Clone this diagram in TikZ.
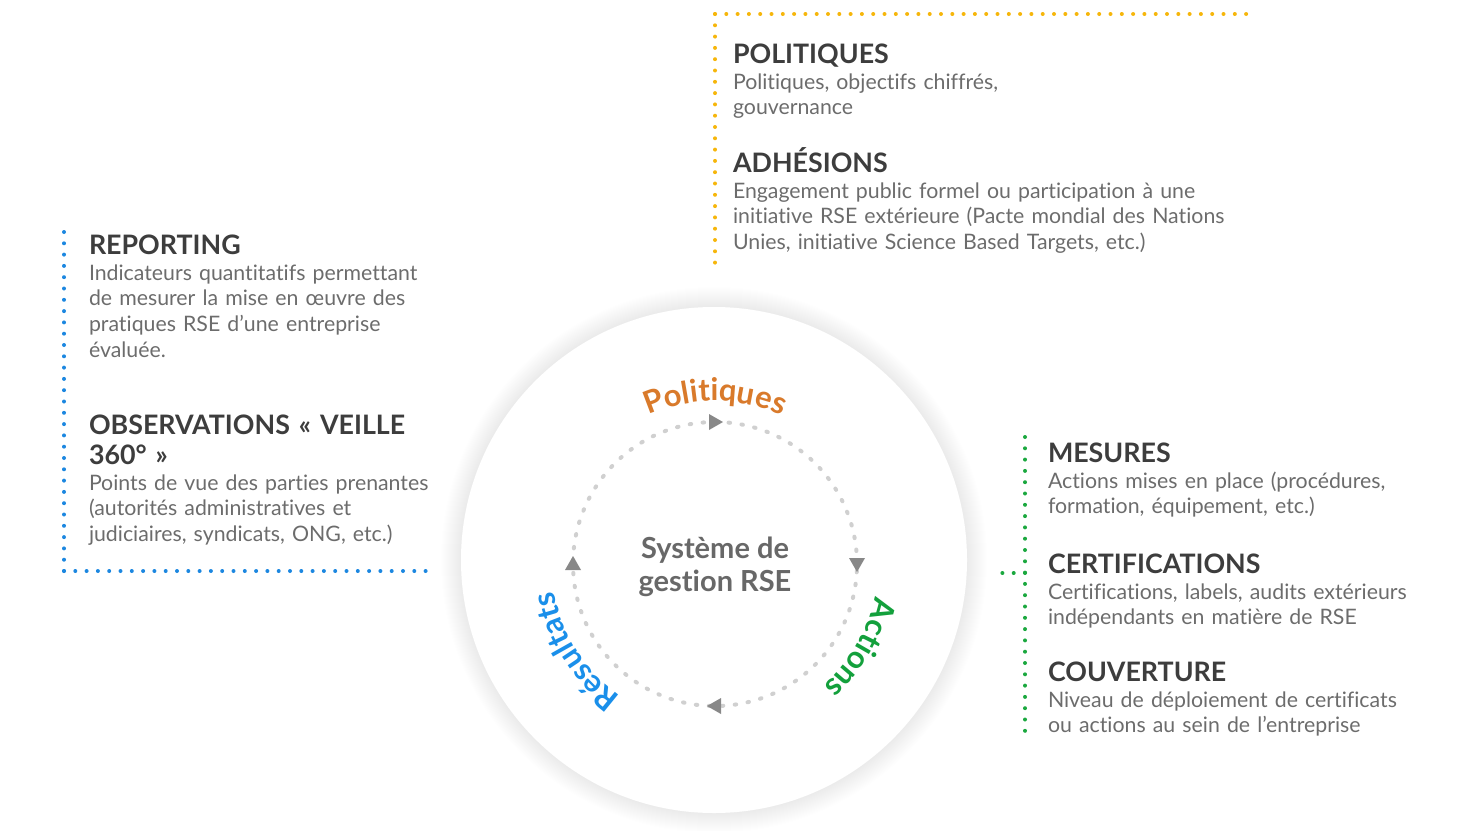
\documentclass[tikz,border=0pt]{standalone}
\usepackage{fontspec}
\setmainfont{Lato}[Ligatures=NoCommon]
\usepackage{tikz}
\usetikzlibrary{calc,decorations.text}

\definecolor{headgray}{HTML}{3D3D3D}
\definecolor{bodygray}{HTML}{6C6C6C}
\definecolor{midgray}{HTML}{686868}
\definecolor{arrowgray}{HTML}{888888}
\definecolor{circgray}{HTML}{D0D0D0}
\definecolor{polorange}{HTML}{D97A2B}
\definecolor{actgreen}{HTML}{13A03C}
\definecolor{resblue}{HTML}{1A8FEA}
\definecolor{dotorange}{HTML}{F6B60B}
\definecolor{dotblue}{HTML}{1C87E0}
\definecolor{dotgreen}{HTML}{1BA83F}

\begin{document}
\begin{tikzpicture}[inner sep=0pt,outer sep=0pt,x=1pt,y=1pt,
    head/.style={anchor=base west, text width=600pt, align=left, text=headgray,
        font=\fontsize{26.8}{30}\selectfont\bfseries},
    body/.style={anchor=base west, text width=600pt, align=left, text=bodygray,
        font=\fontsize{21.3}{25.8}\selectfont},
    dots/.style={line width=4pt, line cap=round, dash pattern=on 0pt off 11.3pt},
    bend/.style={decorate, decoration={text along path, text align=center, text={#1}}}]

    \useasboundingbox (0,0) rectangle (1467,-830);

    % halo and disc
    \coordinate (disc) at (714,-560);
    \foreach \i in {1,...,20}
        \fill[black, opacity=0.002] (disc) circle[radius=253pt+\i pt];
    \fill[white] (disc) circle (253pt);

    % cycle
    \coordinate (ctr) at (715,-564);
    \draw[circgray, line width=4pt, line cap=round, dash pattern=on 1.5pt off 11.5pt]
        (ctr) circle (142pt);
    \foreach \a in {0,90,180,270}
        \fill[arrowgray] ($(ctr)+(\a:142pt)+(\a-90:8pt)$)
            -- ($(ctr)+(\a:142pt)+(\a+90:6pt)+(\a:8pt)$)
            -- ($(ctr)+(\a:142pt)+(\a+90:6pt)+(\a:-8pt)$) -- cycle;

    \node[align=center, text=midgray, font=\fontsize{29}{33}\selectfont\bfseries]
        (sys) at ($(ctr)+(0,-3)$) {Système de\\gestion RSE};

    \path[bend={|\fontsize{31}{31}\selectfont\bfseries\color{polorange}|Politiques}]
        ($(ctr)+(150:163pt)$) arc[start angle=150, end angle=30, radius=163pt];
    \path[bend={|\fontsize{31}{31}\selectfont\bfseries\color{actgreen}|Actions}]
        ($(ctr)+(30:163pt)$) arc[start angle=30, end angle=-90, radius=163pt];
    \path[bend={|\fontsize{31}{31}\selectfont\bfseries\color{resblue}|Résultats}]
        ($(ctr)+(272:163pt)$) arc[start angle=272, end angle=152, radius=163pt];

    % politiques / adhesions
    \coordinate (org_c) at (715,-14);
    \draw[dotorange, dots] (org_c) -- ($(org_c)+(535,0)$);
    \draw[dotorange, dots] (org_c) -- ($(org_c)+(0,-251)$);

    \node[head] (pol_head) at (733,-63) {POLITIQUES};
    \node[body] (pol_txt) at ($(pol_head.base west)+(0,-26)$)
        {Politiques, objectifs chiffrés,\\gouvernance};
    \node[head] (adh_head) at (733,-172) {ADHÉSIONS};
    \node[body] (adh_txt) at ($(adh_head.base west)+(0,-26)$)
        {Engagement public formel ou participation à une\\
         initiative RSE extérieure (Pacte mondial des Nations\\
         Unies, initiative Science Based Targets, etc.)};

    % reporting / observations
    \coordinate (rep_c) at (64,-571);
    \draw[dotblue, dots] (rep_c) -- ($(rep_c)+(0,339)$);
    \draw[dotblue, dots] (rep_c) -- ($(rep_c)+(364,0)$);

    \node[head] (rep_head) at (89,-254) {REPORTING};
    \node[body] (rep_txt) at ($(rep_head.base west)+(0,-26)$)
        {Indicateurs quantitatifs permettant\\
         de mesurer la mise en œuvre des\\
         pratiques RSE d’une entreprise\\
         évaluée.};
    \node[head] (obs_head) at (89,-434) {OBSERVATIONS « VEILLE\\360° »};
    \node[body] (obs_txt) at ($(obs_head.base west)+(0,-56)$)
        {Points de vue des parties prenantes\\
         (autorités administratives et\\
         judiciaires, syndicats, ONG, etc.)};

    % mesures / certifications / couverture
    \coordinate (mes_c) at (1025,-573);
    \draw[dotgreen, dots] (1025,-437) -- (1025,-737);
    \draw[dotgreen, dots] (mes_c) -- ($(mes_c)+(-23,0)$);

    \node[head] (mes_head) at (1048,-462) {MESURES};
    \node[body] (mes_txt) at ($(mes_head.base west)+(0,-26)$)
        {Actions mises en place (procédures,\\formation, équipement, etc.)};
    \node[head] (cer_head) at (1048,-573) {CERTIFICATIONS};
    \node[body] (cer_txt) at ($(cer_head.base west)+(0,-26)$)
        {Certifications, labels, audits extérieurs\\indépendants en matière de RSE};
    \node[head] (cou_head) at (1048,-681) {COUVERTURE};
    \node[body] (cou_txt) at ($(cou_head.base west)+(0,-26)$)
        {Niveau de déploiement de certificats\\ou actions au sein de l’entreprise};

\end{tikzpicture}
\end{document}
